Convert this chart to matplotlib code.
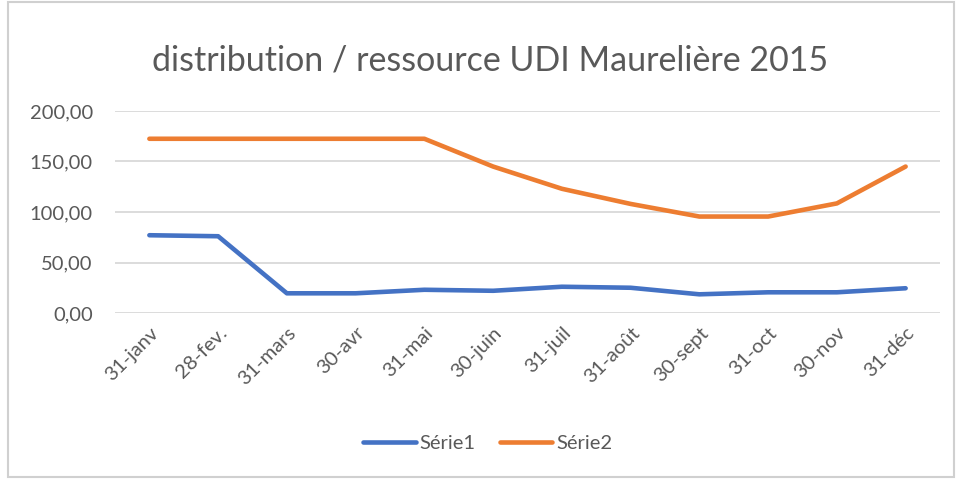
import matplotlib
matplotlib.use("Agg")
import matplotlib.pyplot as plt
from matplotlib.ticker import FuncFormatter

categories = ["31-janv", "28-fev.", "31-mars", "30-avr", "31-mai", "30-juin",
              "31-juil", "31-août", "30-sept", "31-oct", "30-nov", "31-déc"]
serie1 = [77, 76, 19.5, 19.5, 23, 22, 26, 25, 18.5, 20.5, 20.5, 24.5]
serie2 = [172.5, 172.5, 172.5, 172.5, 172.5, 145, 123, 108, 95.5, 95.5, 108.5, 145]
yticks = [0, 50, 100, 150, 200]
title = "distribution / ressource UDI Maurelière 2015"

plt.rcParams['font.family'] = ['Lato', 'DejaVu Sans']
gray = "#595959"

fig = plt.figure(figsize=(9.58, 4.79), dpi=100)
fig.patches.append(plt.Rectangle((8/958, 2/479), 946/958, 475/479, transform=fig.transFigure,
                                 fill=False, edgecolor="#d0d0d0", linewidth=1.5))
ax = fig.add_axes([115/958, 1 - 313/479, (940-115)/958, (313-111)/479])

x = list(range(len(categories)))
ax.plot(x, serie1, color="#4472C4", linewidth=3.3, solid_capstyle="round", label="Série1")
ax.plot(x, serie2, color="#ED7D31", linewidth=3.3, solid_capstyle="round", label="Série2")

ax.set_ylim(0, 200)
ax.set_xlim(-0.5, len(categories) - 0.5)
ax.set_yticks(yticks)
ax.yaxis.set_major_formatter(FuncFormatter(lambda v, p: f"{v:.2f}".replace(".", ",")))
ax.grid(axis="y", color="#d9d9d9", linewidth=1.3)
ax.set_axisbelow(True)
for s in ax.spines.values():
    s.set_visible(False)
ax.tick_params(axis="both", length=0, colors=gray, labelsize=14.5)
ax.tick_params(axis="y", pad=16)
ax.set_xticks(x)
ax.set_xticklabels(categories, rotation=45, ha="right", rotation_mode="anchor")
ax.tick_params(axis="x", pad=8)

fig.text(490/958, 1 - 60/479, title, ha="center", va="center", fontsize=24.5, color=gray)
fig.legend(loc="center", bbox_to_anchor=(488/958, 1 - 443/479), ncol=2, frameon=False,
           fontsize=14.5, labelcolor=gray, handlelength=2.6, columnspacing=1.2, handletextpad=0.2)

fig.savefig("out.png", dpi=100)
